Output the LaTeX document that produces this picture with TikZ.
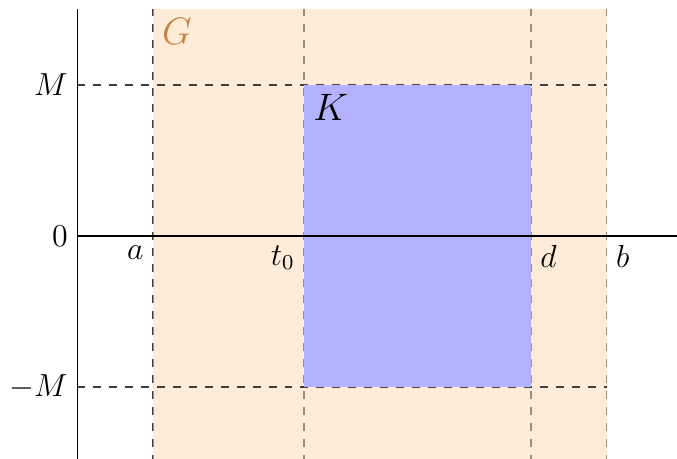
\documentclass[tikz,border=0pt]{standalone}
\usepackage{amsmath,amssymb}
\usepackage{tikz}
\usetikzlibrary{calc,positioning}
\definecolor{gtext}{RGB}{200,130,65}
\tikzset{
    guide/.style={dashed, black!75, semithick},
    lbl/.style={font=\large},
    reg/.style={font=\Large}
}

\begin{document}
\begin{tikzpicture}
    \useasboundingbox (-1.02,-2.94) rectangle (7.93,3.12);

    % Vertical guide lines
    \draw[guide] (1,-3) -- (1,3);
    \draw[guide] (3,-3) -- (3,3);
    \draw[guide] (6,-3) -- (6,3);
    \draw[guide] (7,-3) -- (7,3);

    % Region G
    \fill[orange!30, fill opacity=0.5] (1,-3) rectangle (7,3);

    % Horizontal guide lines
    \draw[guide] (0,2) -- (7,2);
    \draw[guide] (0,-2) -- (7,-2);

    % Region K
    \fill[blue!30] (3,-2) rectangle (6,2);

    % Axes
    \draw (0,0) -- (8,0);
    \draw (0,-3) -- (0,3);

    % Labels
    \node[lbl, left] (zero) at (0,0) {$0$};
    \node[lbl, left] (mtop) at (0,2) {$M$};
    \node[lbl, left] (mbot) at (0,-2) {$-M$};
    \node[lbl, below left] (la) at (1,0) {$a$};
    \node[lbl, below left] (lt) at (3,0) {$t_0$};
    \node[lbl, below right] (ld) at (6,0) {$d$};
    \node[lbl, below right] (lb) at (7,0) {$b$};
    \node[reg, below right, text=gtext] (lg) at (1,3) {$G$};
    \node[reg, below right] (lk) at (3,2) {$K$};
\end{tikzpicture}
\end{document}
